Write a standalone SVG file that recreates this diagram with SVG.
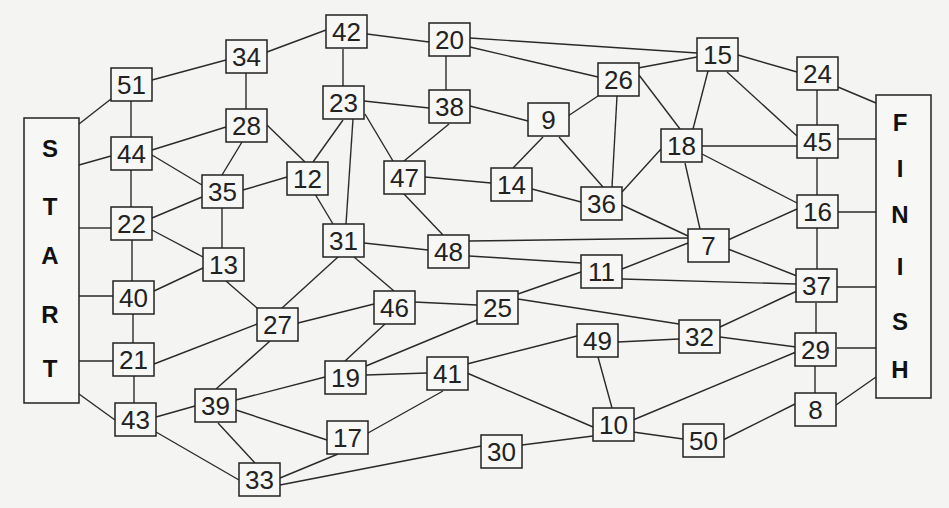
<svg xmlns="http://www.w3.org/2000/svg" width="949" height="508" viewBox="0 0 949 508">
<style>
.bg{fill:#f4f4f2}
.n rect{fill:#f7f7f5;stroke:#222;stroke-width:1.5}
.n text{font-family:"Liberation Sans",Arial,sans-serif;font-size:26px;fill:#222;text-anchor:middle}
.t text{font-family:"Liberation Sans",Arial,sans-serif;font-size:24px;font-weight:bold;fill:#111;text-anchor:middle}
.t rect{fill:#f7f7f5;stroke:#222;stroke-width:1.5}
#connectors line{stroke:#2a2a2a;stroke-width:1.4;fill:none}
</style>
<rect class="bg" x="0" y="0" width="949" height="508"/>
<g id="connectors">
<line x1="79" y1="124" x2="111" y2="99"/>
<line x1="79" y1="165" x2="111" y2="156"/>
<line x1="79" y1="228" x2="111" y2="228"/>
<line x1="79" y1="296" x2="113" y2="296"/>
<line x1="79" y1="361" x2="113" y2="361"/>
<line x1="79" y1="394" x2="115" y2="420"/>
<line x1="152" y1="80" x2="226" y2="60"/>
<line x1="131" y1="101" x2="131" y2="137"/>
<line x1="152" y1="150" x2="226" y2="127"/>
<line x1="152" y1="155" x2="202" y2="185"/>
<line x1="131" y1="170" x2="131" y2="207"/>
<line x1="246" y1="73" x2="246" y2="109"/>
<line x1="267" y1="52" x2="326" y2="30"/>
<line x1="242" y1="142" x2="222" y2="175"/>
<line x1="267" y1="125" x2="305" y2="162"/>
<line x1="243" y1="190" x2="287" y2="177"/>
<line x1="222" y1="208" x2="222" y2="248"/>
<line x1="152" y1="218" x2="202" y2="197"/>
<line x1="152" y1="230" x2="203" y2="257"/>
<line x1="132" y1="240" x2="132" y2="281"/>
<line x1="154" y1="291" x2="203" y2="268"/>
<line x1="133" y1="314" x2="133" y2="343"/>
<line x1="226" y1="281" x2="257" y2="308"/>
<line x1="154" y1="364" x2="257" y2="324"/>
<line x1="134" y1="376" x2="134" y2="403"/>
<line x1="156" y1="417" x2="195" y2="406"/>
<line x1="156" y1="432" x2="239" y2="480"/>
<line x1="216" y1="389" x2="270" y2="341"/>
<line x1="236" y1="400" x2="325" y2="377"/>
<line x1="236" y1="410" x2="327" y2="440"/>
<line x1="218" y1="423" x2="255" y2="463"/>
<line x1="280" y1="478" x2="338" y2="454"/>
<line x1="280" y1="485" x2="481" y2="446"/>
<line x1="368" y1="433" x2="443" y2="391"/>
<line x1="366" y1="375" x2="427" y2="373"/>
<line x1="345" y1="361" x2="385" y2="324"/>
<line x1="366" y1="366" x2="477" y2="320"/>
<line x1="298" y1="323" x2="374" y2="304"/>
<line x1="282" y1="308" x2="338" y2="257"/>
<line x1="354" y1="257" x2="394" y2="291"/>
<line x1="364" y1="243" x2="428" y2="250"/>
<line x1="315" y1="194" x2="333" y2="224"/>
<line x1="353" y1="119" x2="346" y2="224"/>
<line x1="343" y1="120" x2="313" y2="162"/>
<line x1="343" y1="49" x2="343" y2="86"/>
<line x1="364" y1="101" x2="429" y2="108"/>
<line x1="365" y1="114" x2="393" y2="161"/>
<line x1="449" y1="124" x2="404" y2="161"/>
<line x1="446" y1="56" x2="446" y2="90"/>
<line x1="470" y1="106" x2="528" y2="121"/>
<line x1="367" y1="34" x2="429" y2="42"/>
<line x1="470" y1="38" x2="697" y2="53"/>
<line x1="470" y1="47" x2="598" y2="77"/>
<line x1="638" y1="68" x2="697" y2="57"/>
<line x1="598" y1="96" x2="568" y2="116"/>
<line x1="617" y1="96" x2="612" y2="187"/>
<line x1="639" y1="75" x2="680" y2="129"/>
<line x1="543" y1="137" x2="513" y2="168"/>
<line x1="559" y1="137" x2="603" y2="187"/>
<line x1="425" y1="177" x2="491" y2="183"/>
<line x1="532" y1="189" x2="581" y2="202"/>
<line x1="404" y1="194" x2="443" y2="235"/>
<line x1="622" y1="192" x2="661" y2="149"/>
<line x1="622" y1="205" x2="688" y2="236"/>
<line x1="708" y1="71" x2="693" y2="129"/>
<line x1="727" y1="72" x2="797" y2="136"/>
<line x1="738" y1="55" x2="797" y2="72"/>
<line x1="838" y1="87" x2="876" y2="103"/>
<line x1="817" y1="90" x2="817" y2="125"/>
<line x1="702" y1="146" x2="797" y2="146"/>
<line x1="702" y1="154" x2="797" y2="203"/>
<line x1="685" y1="163" x2="700" y2="229"/>
<line x1="838" y1="139" x2="876" y2="139"/>
<line x1="817" y1="158" x2="817" y2="195"/>
<line x1="838" y1="212" x2="876" y2="212"/>
<line x1="797" y1="209" x2="728" y2="240"/>
<line x1="817" y1="228" x2="817" y2="269"/>
<line x1="728" y1="249" x2="797" y2="276"/>
<line x1="469" y1="241" x2="688" y2="238"/>
<line x1="622" y1="269" x2="688" y2="243"/>
<line x1="469" y1="256" x2="581" y2="263"/>
<line x1="622" y1="279" x2="796" y2="284"/>
<line x1="518" y1="294" x2="581" y2="272"/>
<line x1="414" y1="302" x2="477" y2="305"/>
<line x1="518" y1="299" x2="679" y2="324"/>
<line x1="720" y1="327" x2="797" y2="291"/>
<line x1="720" y1="337" x2="796" y2="347"/>
<line x1="618" y1="342" x2="679" y2="339"/>
<line x1="577" y1="336" x2="467" y2="364"/>
<line x1="598" y1="357" x2="612" y2="408"/>
<line x1="467" y1="373" x2="593" y2="427"/>
<line x1="633" y1="420" x2="796" y2="352"/>
<line x1="633" y1="432" x2="683" y2="439"/>
<line x1="593" y1="436" x2="522" y2="445"/>
<line x1="723" y1="440" x2="795" y2="404"/>
<line x1="815" y1="366" x2="815" y2="393"/>
<line x1="836" y1="405" x2="876" y2="377"/>
<line x1="816" y1="303" x2="816" y2="333"/>
<line x1="837" y1="348" x2="876" y2="348"/>
<line x1="837" y1="287" x2="876" y2="287"/>
</g>
<g id="start" class="t"><rect x="24" y="118" width="55" height="285"/><text x="50" y="157">S</text><text x="50" y="215">T</text><text x="50" y="264">A</text><text x="50" y="323">R</text><text x="50" y="377">T</text></g>
<g id="finish" class="t"><rect x="876" y="95" width="55" height="303"/><text x="900" y="131">F</text><text x="900" y="177">I</text><text x="900" y="223">N</text><text x="900" y="275">I</text><text x="900" y="330">S</text><text x="900" y="378">H</text></g>
<g id="n51" class="n"><rect x="111" y="68" width="41" height="33"/><text x="131.5" y="94">51</text></g>
<g id="n34" class="n"><rect x="226" y="40" width="41" height="33"/><text x="246.5" y="66">34</text></g>
<g id="n42" class="n"><rect x="326" y="15" width="41" height="33"/><text x="346.5" y="41">42</text></g>
<g id="n20" class="n"><rect x="429" y="23" width="41" height="33"/><text x="449.5" y="49">20</text></g>
<g id="n15" class="n"><rect x="697" y="38" width="41" height="33"/><text x="717.5" y="64">15</text></g>
<g id="n24" class="n"><rect x="797" y="57" width="41" height="33"/><text x="817.5" y="83">24</text></g>
<g id="n28" class="n"><rect x="226" y="109" width="41" height="33"/><text x="246.5" y="135">28</text></g>
<g id="n23" class="n"><rect x="323" y="86" width="41" height="33"/><text x="343.5" y="112">23</text></g>
<g id="n38" class="n"><rect x="429" y="90" width="41" height="33"/><text x="449.5" y="116">38</text></g>
<g id="n26" class="n"><rect x="598" y="63" width="41" height="33"/><text x="618.5" y="89">26</text></g>
<g id="n9" class="n"><rect x="528" y="103" width="41" height="33"/><text x="548.5" y="129">9</text></g>
<g id="n44" class="n"><rect x="111" y="137" width="41" height="33"/><text x="131.5" y="163">44</text></g>
<g id="n12" class="n"><rect x="287" y="162" width="41" height="33"/><text x="307.5" y="188">12</text></g>
<g id="n35" class="n"><rect x="202" y="175" width="41" height="33"/><text x="222.5" y="201">35</text></g>
<g id="n47" class="n"><rect x="384" y="161" width="41" height="33"/><text x="404.5" y="187">47</text></g>
<g id="n14" class="n"><rect x="491" y="168" width="41" height="33"/><text x="511.5" y="194">14</text></g>
<g id="n36" class="n"><rect x="581" y="187" width="41" height="33"/><text x="601.5" y="213">36</text></g>
<g id="n18" class="n"><rect x="661" y="129" width="41" height="33"/><text x="681.5" y="155">18</text></g>
<g id="n45" class="n"><rect x="797" y="125" width="41" height="33"/><text x="817.5" y="151">45</text></g>
<g id="n16" class="n"><rect x="797" y="195" width="41" height="33"/><text x="817.5" y="221">16</text></g>
<g id="n22" class="n"><rect x="111" y="207" width="41" height="33"/><text x="131.5" y="233">22</text></g>
<g id="n31" class="n"><rect x="323" y="224" width="41" height="33"/><text x="343.5" y="250">31</text></g>
<g id="n48" class="n"><rect x="428" y="235" width="41" height="33"/><text x="448.5" y="261">48</text></g>
<g id="n7" class="n"><rect x="688" y="229" width="41" height="33"/><text x="708.5" y="255">7</text></g>
<g id="n13" class="n"><rect x="203" y="248" width="41" height="33"/><text x="223.5" y="274">13</text></g>
<g id="n11" class="n"><rect x="581" y="255" width="41" height="33"/><text x="601.5" y="281">11</text></g>
<g id="n37" class="n"><rect x="796" y="269" width="41" height="33"/><text x="816.5" y="295">37</text></g>
<g id="n40" class="n"><rect x="113" y="281" width="41" height="33"/><text x="133.5" y="307">40</text></g>
<g id="n27" class="n"><rect x="257" y="308" width="41" height="33"/><text x="277.5" y="334">27</text></g>
<g id="n46" class="n"><rect x="374" y="291" width="41" height="33"/><text x="394.5" y="317">46</text></g>
<g id="n25" class="n"><rect x="477" y="291" width="41" height="33"/><text x="497.5" y="317">25</text></g>
<g id="n32" class="n"><rect x="679" y="320" width="41" height="33"/><text x="699.5" y="346">32</text></g>
<g id="n49" class="n"><rect x="577" y="324" width="41" height="33"/><text x="597.5" y="350">49</text></g>
<g id="n29" class="n"><rect x="795" y="333" width="41" height="33"/><text x="815.5" y="359">29</text></g>
<g id="n21" class="n"><rect x="113" y="343" width="41" height="33"/><text x="133.5" y="369">21</text></g>
<g id="n19" class="n"><rect x="325" y="361" width="41" height="33"/><text x="345.5" y="387">19</text></g>
<g id="n41" class="n"><rect x="427" y="357" width="41" height="33"/><text x="447.5" y="383">41</text></g>
<g id="n39" class="n"><rect x="195" y="389" width="41" height="33"/><text x="215.5" y="415">39</text></g>
<g id="n43" class="n"><rect x="115" y="403" width="41" height="33"/><text x="135.5" y="429">43</text></g>
<g id="n8" class="n"><rect x="795" y="393" width="41" height="33"/><text x="815.5" y="419">8</text></g>
<g id="n10" class="n"><rect x="593" y="408" width="41" height="33"/><text x="613.5" y="434">10</text></g>
<g id="n17" class="n"><rect x="327" y="421" width="41" height="33"/><text x="347.5" y="447">17</text></g>
<g id="n50" class="n"><rect x="683" y="424" width="41" height="33"/><text x="703.5" y="450">50</text></g>
<g id="n30" class="n"><rect x="481" y="435" width="41" height="33"/><text x="501.5" y="461">30</text></g>
<g id="n33" class="n"><rect x="239" y="463" width="41" height="33"/><text x="259.5" y="489">33</text></g>
</svg>
